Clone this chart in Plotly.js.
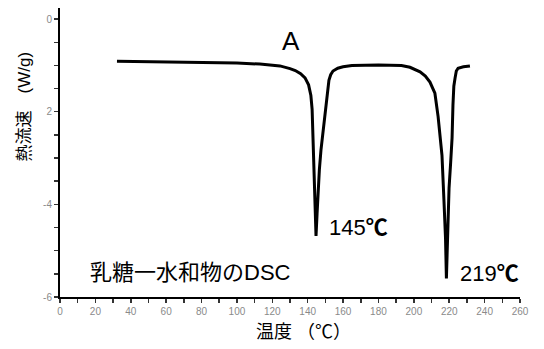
<!DOCTYPE html>
<html>
<head>
<meta charset="utf-8">
<script src="https://cdn.plot.ly/plotly-3.0.1.min.js"></script>
<style>html,body{margin:0;padding:0;background:#fff;}#chart{width:544px;height:349px;}</style>
</head>
<body>
<div id="chart"></div>
<script>
// Temperature (°C) and heat flow (W/g)
const temperature = [32.2, 60, 79, 100, 113, 124.3, 130, 133, 136, 138.5, 140.5, 141.8, 142.5, 143.0, 143.6, 144.2, 144.7, 145.3, 145.8, 146.6, 147.5, 148.8, 149.8, 150.9, 152.0, 153.0, 154.3, 157, 160, 165, 180, 193, 197.8, 203.5, 206.5, 209.1, 211.9, 213.7, 215.0, 215.9, 217.0, 217.9, 218.4, 218.9, 219.9, 220.8, 221.6, 222.1, 222.6, 223.3, 224.0, 225.0, 228, 231.7];
const heatFlow = [-0.91, -0.92, -0.93, -0.95, -0.97, -1.01, -1.07, -1.11, -1.18, -1.27, -1.42, -1.65, -1.95, -2.6, -3.4, -4.0, -4.68, -4.2, -3.69, -3.25, -2.83, -2.4, -2.07, -1.64, -1.32, -1.2, -1.12, -1.06, -1.03, -1.0, -0.99, -1.0, -1.04, -1.14, -1.23, -1.36, -1.6, -2.1, -2.6, -2.94, -3.9, -4.73, -5.6, -4.73, -3.65, -3.1, -2.57, -1.86, -1.45, -1.27, -1.12, -1.06, -1.03, -1.01];

const xTickVals = [0, 20, 40, 60, 80, 100, 120, 140, 160, 180, 200, 220, 240, 260];
const xTickText = ['0', '20', '40', '60', '80', '100', '120', '140', '160', '180', '200', '220', '240', '260'];
const yTickVals = [0, -2, -4, -6];
const yTickText = ['0', '2', '-4', '-6'];

const panelLabel = 'A';
const peakTemps = [145, 219];
const sampleLabel = '乳糖一水和物のDSC';
const xTitle = '温度 （℃）';
const yTitle = '熱流速　(W/g)';

// minor tick subdivisions (labels left blank)
function withMinor(vals, text, steps) {
  const v = [], t = [];
  for (let i = 0; i < vals.length; i++) {
    v.push(vals[i]); t.push(text[i]);
    if (i < vals.length - 1) {
      for (let k = 1; k < steps; k++) {
        v.push(vals[i] + (vals[i + 1] - vals[i]) * k / steps);
        t.push('');
      }
    }
  }
  return {v, t};
}
const xt = withMinor(xTickVals, xTickText, 2);
const yt = withMinor(yTickVals, yTickText, 4);

const FONT = 'Liberation Sans, Noto Sans CJK JP, sans-serif';
const TICKFONT = {size: 10, color: '#8a8a8a', family: 'Liberation Sans Narrow, Liberation Sans, sans-serif'};

const trace = {
  x: temperature,
  y: heatFlow,
  type: 'scatter',
  mode: 'lines',
  line: {color: '#000', width: 3},
  hoverinfo: 'skip',
  showlegend: false
};

const layout = {
  width: 544,
  height: 349,
  margin: {l: 60, r: 24, t: 8, b: 52},
  paper_bgcolor: '#fff',
  plot_bgcolor: '#fff',
  font: {family: FONT, color: '#000'},
  xaxis: {
    range: [0, 260],
    tickmode: 'array',
    tickvals: xt.v,
    ticktext: xt.t,
    ticks: 'outside',
    ticklen: 4,
    tickwidth: 1.5,
    tickcolor: '#333',
    showline: true,
    linecolor: '#000',
    linewidth: 2,
    showgrid: false,
    zeroline: false,
    tickfont: TICKFONT,
    fixedrange: true
  },
  yaxis: {
    range: [-6, 0.24],
    tickmode: 'array',
    tickvals: yt.v,
    ticktext: yt.t,
    ticks: 'outside',
    ticklen: 4,
    tickwidth: 1.5,
    tickcolor: '#333',
    showline: true,
    linecolor: '#000',
    linewidth: 2,
    showgrid: false,
    zeroline: false,
    tickfont: TICKFONT,
    fixedrange: true
  },
  annotations: [
    {x: 130.6, y: -0.475, xref: 'x', yref: 'y', text: panelLabel, showarrow: false,
     font: {size: 26, family: FONT, color: '#000'}, xanchor: 'center', yanchor: 'middle'},
    {x: 150.9, y: -4.5, xref: 'x', yref: 'y', text: peakTemps[0] + '<b>℃</b>', showarrow: false,
     font: {size: 22, family: FONT, color: '#000'}, xanchor: 'left', yanchor: 'middle'},
    {x: 225, y: -5.49, xref: 'x', yref: 'y', text: peakTemps[1] + '<b>℃</b>', showarrow: false,
     font: {size: 22, family: FONT, color: '#000'}, xanchor: 'left', yanchor: 'middle'},
    {x: 15.8, y: -5.48, xref: 'x', yref: 'y', text: sampleLabel, showarrow: false,
     font: {size: 22, family: FONT, color: '#000'}, xanchor: 'left', yanchor: 'middle'},
    {x: 0.530, y: -0.12, xref: 'paper', yref: 'paper', text: xTitle, showarrow: false,
     font: {size: 18, family: FONT, color: '#000'}, xanchor: 'center', yanchor: 'middle'},
    {x: -0.078, y: 0.66, xref: 'paper', yref: 'paper', text: yTitle, showarrow: false, textangle: -90,
     font: {size: 17, family: FONT, color: '#000'}, xanchor: 'center', yanchor: 'middle'}
  ]
};

Plotly.newPlot('chart', [trace], layout, {staticPlot: true, displayModeBar: false});
</script>
</body>
</html>
